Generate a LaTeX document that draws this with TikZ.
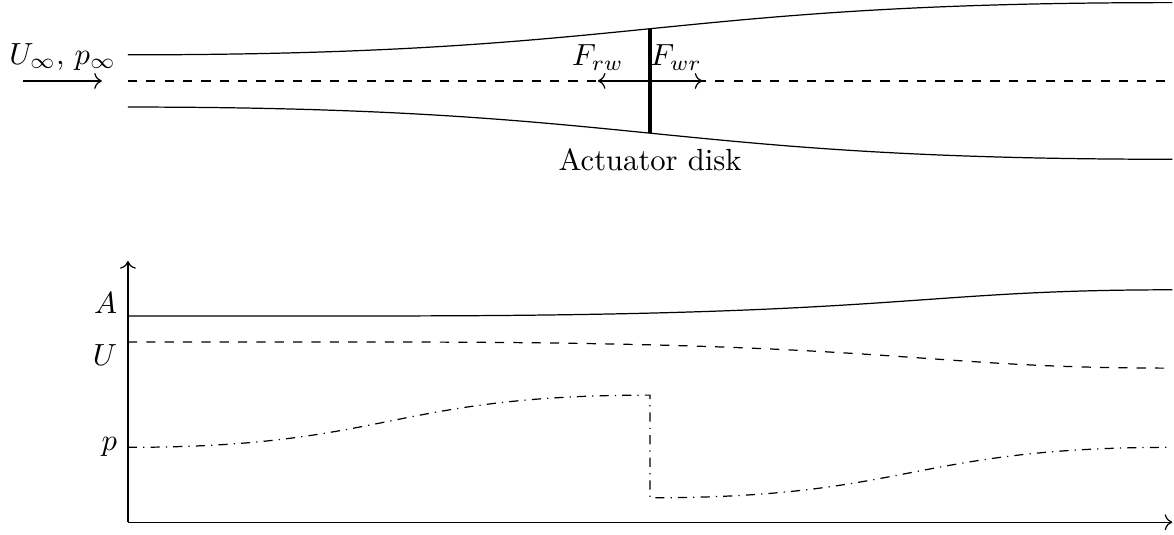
\documentclass[tikz,border=0pt]{standalone}
\usepackage{amsmath,amssymb}
\usepackage{tikz}
\usetikzlibrary{arrows.meta,calc,positioning}

\begin{document}
\begin{tikzpicture}[
  tube/.style={thin},
  diskline/.style={very thick},
  arr/.style={->},
  axisline/.style={->},
  flowA/.style={thin},
  flowU/.style={thin, dashed},
  flowp/.style={thin, dash dot}
]
\useasboundingbox (-1.47,-0.14) rectangle (12.02,6.0);
\coordinate (dc) at (6,5.07);
\coordinate (dtop) at (6,5.67);
\coordinate (dbot) at (6,4.47);
\coordinate (in1) at (-1.2,5.07);
\coordinate (in2) at (-0.3,5.07);
\coordinate (frw) at (5.4,5.07);
\coordinate (fwr) at (6.6,5.07);
\draw[tube] (0,5.37) .. controls (6,5.37) and (6,5.97) .. (12,5.97);
\draw[tube] (0,4.77) .. controls (6,4.77) and (6,4.17) .. (12,4.17);
\draw[dashed] (0,5.07) -- (12,5.07);
\draw[diskline] (dtop) -- (dbot);
\draw[arr] (in1) -- (in2) node[midway, above] (inflow) {$U_\infty$, $p_\infty$};
\draw[arr] (dc) -- (frw);
\draw[arr] (dc) -- (fwr);
\node[above] (Frw) at (frw) {$F_{rw}$};
\node[above] (Fwr) at ($(dc)!0.5!(fwr)$) {$F_{wr}$};
\node[below=0.05cm of dbot] (disk) {Actuator disk};
\coordinate (o) at (0,0);
\coordinate (ytop) at (0,3);
\coordinate (xend) at (12,0);
\draw[axisline] (o) -- (ytop);
\draw[axisline] (o) -- (xend);
\draw[flowA] (0,2.37) -- (3,2.37) .. controls (9,2.37) and (9,2.67) .. (12,2.67);
\draw[flowU] (0,2.07) -- (3,2.07) .. controls (9,2.07) and (9,1.77) .. (12,1.77);
\draw[flowp] (0,0.86) .. controls (3,0.86) and (3,1.46) .. (6,1.46) -- (6,0.28) .. controls (9,0.28) and (9,0.86) .. (12,0.86);
\node[left] (Albl) at (0,2.52) {$A$};
\node[left] (Ulbl) at (0,1.92) {$U$};
\node[left] (plbl) at (0,0.86) {$p$};
\end{tikzpicture}
\end{document}
